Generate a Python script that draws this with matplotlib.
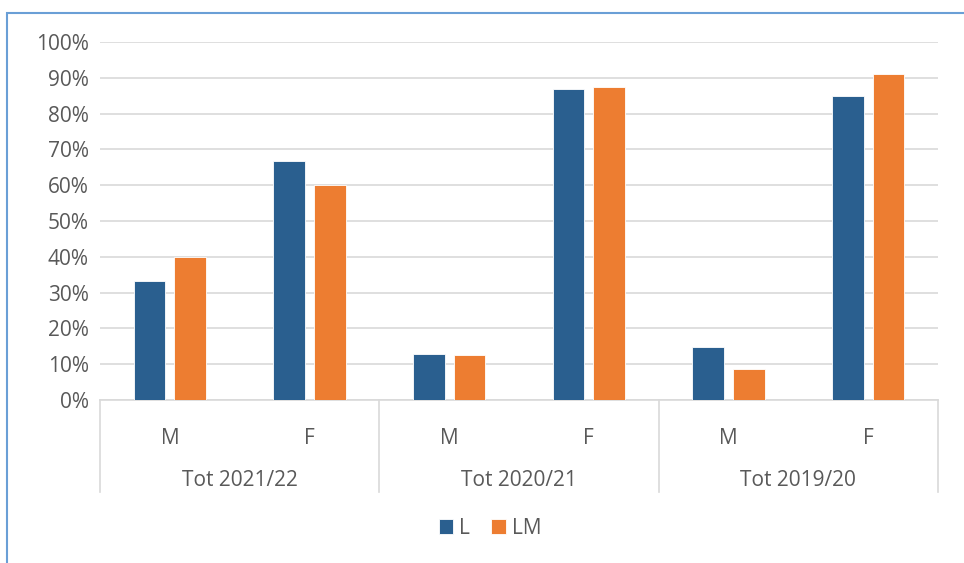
import numpy as np
import matplotlib.pyplot as plt
from matplotlib.patches import Rectangle
from matplotlib.ticker import PercentFormatter

plt.rcParams['font.family'] = ['Open Sans', 'DejaVu Sans']

groups = ['Tot 2021/22', 'Tot 2020/21', 'Tot 2019/20']
sexes = ['M', 'F']
L = [33.3, 66.7, 12.8, 87.0, 14.9, 84.8]
LM = [40.0, 60.0, 12.5, 87.4, 8.7, 91.0]

txt = '#595959'
grid = '#D9D9D9'
fs = 15

fig = plt.figure(figsize=(9.64, 5.63), dpi=100)
ax = fig.add_axes([100/964, 163/563, 838/964, 358/563])

x = np.arange(len(L))
w = 0.225
ax.bar(x - w/2 - 0.033, L, w, color='#2A5F8F', edgecolor='white', linewidth=0.6, label='L', zorder=3)
ax.bar(x + w/2 + 0.033, LM, w, color='#ED7D31', edgecolor='white', linewidth=0.6, label='LM', zorder=3)

ax.set_xlim(-0.5, len(L) - 0.5)
ax.set_ylim(0, 100)
ax.set_yticks(np.arange(0, 101, 10))
ax.yaxis.set_major_formatter(PercentFormatter(decimals=0))
ax.grid(axis='y', color=grid, linewidth=1.2, zorder=0)
for s in ['top', 'right', 'left']:
    ax.spines[s].set_visible(False)
ax.spines['bottom'].set_color(grid)
ax.spines['bottom'].set_linewidth(1.2)
ax.tick_params(axis='y', length=0, labelsize=fs, labelcolor=txt, pad=8)
ax.tick_params(axis='x', length=0, labelsize=fs, labelcolor=txt, pad=20)
ax.set_xticks(x)
ax.set_xticklabels(sexes * len(groups))

# group separators and labels
tr = ax.get_xaxis_transform()
for b in np.arange(-0.5, len(L), 2):
    ax.plot([b, b], [0, -0.257], transform=tr, color=grid, linewidth=1.2, clip_on=False)
for i, g in enumerate(groups):
    ax.text(2*i + 0.5, -0.226, g, transform=tr, ha='center', va='center', fontsize=fs, color=txt)

leg = fig.legend(loc='center', bbox_to_anchor=(490/964, 1 - 528/563), ncol=2, frameon=False,
                 fontsize=fs, handlelength=0.7, handleheight=0.7, handletextpad=0.3, columnspacing=1.0)
for t in leg.get_texts():
    t.set_color(txt)

# chart border (left and top visible)
fig.patches.append(Rectangle((7/964, -0.05), 1.1, 1 - 13/563 + 0.05, transform=fig.transFigure,
                             fill=False, edgecolor='#6A9FD6', linewidth=1.5))

fig.savefig('out.png', dpi=100)
